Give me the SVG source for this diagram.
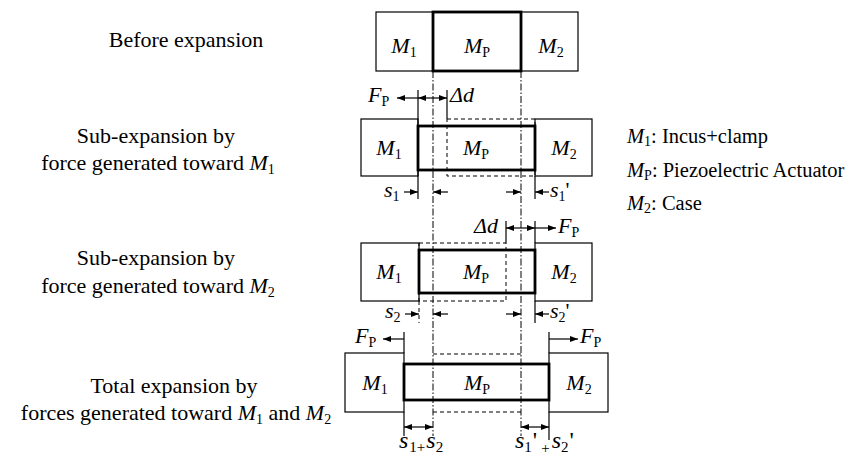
<svg xmlns="http://www.w3.org/2000/svg" width="861" height="461" viewBox="0 0 861 461">
<style>
text{font-family:"Liberation Serif","Times New Roman",serif;fill:#000}
.lab{font-size:22px}
.leg{font-size:20.5px}
.big{font-size:24px}
.i{font-style:italic}
.sb{font-size:14px;font-style:normal}
.sb2{font-size:15px;font-style:normal}
.box{fill:none;stroke:#000;stroke-width:1.2}
.mp{fill:none;stroke:#000;stroke-width:2.8}
.dash{fill:none;stroke:#000;stroke-width:1;stroke-dasharray:4 3}
.dd{fill:none;stroke:#000;stroke-width:1;stroke-dasharray:7 2 1.5 2}
.ln{fill:none;stroke:#000;stroke-width:1.2}
.ar{fill:none;stroke:#000;stroke-width:1.2;marker-end:url(#ah)}
.da{fill:none;stroke:#000;stroke-width:1.2;marker-end:url(#ah);marker-start:url(#ah)}
</style>
<defs>
<marker id="ah" viewBox="0 0 8 6" refX="8" refY="3" markerWidth="8" markerHeight="6" markerUnits="userSpaceOnUse" orient="auto-start-reverse">
<path d="M0,0 L8,3 L0,6 z" fill="#000"/>
</marker>
</defs>
<rect width="861" height="461" fill="#fff"/>

<g id="captions" class="lab">
<text x="186" y="47" text-anchor="middle">Before expansion</text>
<text x="156" y="143" text-anchor="middle">Sub-expansion by</text>
<text x="158" y="170" text-anchor="middle">force generated toward <tspan class="i">M</tspan><tspan class="sb" dy="4">1</tspan></text>
<text x="156" y="265" text-anchor="middle">Sub-expansion by</text>
<text x="158" y="293" text-anchor="middle">force generated toward <tspan class="i">M</tspan><tspan class="sb" dy="4">2</tspan></text>
<text x="174" y="393" text-anchor="middle">Total expansion by</text>
<text x="176" y="420" text-anchor="middle">forces generated toward <tspan class="i">M</tspan><tspan class="sb" dy="4">1</tspan><tspan dy="-4"> and </tspan><tspan class="i">M</tspan><tspan class="sb" dy="4">2</tspan></text>
</g>

<g id="legend" class="leg">
<text x="627" y="143"><tspan class="i">M</tspan><tspan class="sb" dy="3">1</tspan><tspan dy="-3">: Incus+clamp</tspan></text>
<text x="627" y="177"><tspan class="i">M</tspan><tspan class="sb" dy="3">P</tspan><tspan dy="-3">: Piezoelectric Actuator</tspan></text>
<text x="627" y="210"><tspan class="i">M</tspan><tspan class="sb" dy="3">2</tspan><tspan dy="-3">: Case</tspan></text>
</g>

<g id="ghosts">
<rect class="dash" x="447" y="119" width="88" height="57"/>
<rect class="dash" x="419" y="243" width="87" height="58"/>
<line class="dash" x1="433" y1="354" x2="521" y2="354"/>
<line class="dash" x1="433" y1="412" x2="521" y2="412"/>
</g>

<g id="row1-M1"><rect class="box" x="376" y="12" width="57" height="59"/>
<text class="lab" x="404" y="53" text-anchor="middle"><tspan class="i">M</tspan><tspan class="sb" dy="4">1</tspan></text></g>
<g id="row1-MP"><rect class="mp" x="433" y="12" width="88" height="59"/>
<text class="lab" x="477" y="53" text-anchor="middle"><tspan class="i">M</tspan><tspan class="sb" dy="4">P</tspan></text></g>
<g id="row1-M2"><rect class="box" x="521" y="12" width="57" height="59"/>
<text class="lab" x="551" y="53" text-anchor="middle"><tspan class="i">M</tspan><tspan class="sb" dy="4">2</tspan></text></g>

<g id="row2-M1"><rect class="box" x="361" y="119" width="57" height="57"/>
<text class="lab" x="389" y="155" text-anchor="middle"><tspan class="i">M</tspan><tspan class="sb" dy="4">1</tspan></text></g>
<g id="row2-MP"><rect class="mp" x="418" y="126" width="117" height="44"/>
<text class="lab" x="476" y="155" text-anchor="middle"><tspan class="i">M</tspan><tspan class="sb" dy="4">P</tspan></text></g>
<g id="row2-M2"><rect class="box" x="535" y="119" width="57" height="57"/>
<text class="lab" x="564" y="155" text-anchor="middle"><tspan class="i">M</tspan><tspan class="sb" dy="4">2</tspan></text></g>

<g id="row3-M1"><rect class="box" x="361" y="243" width="58" height="58"/>
<text class="lab" x="389" y="279" text-anchor="middle"><tspan class="i">M</tspan><tspan class="sb" dy="4">1</tspan></text></g>
<g id="row3-MP"><rect class="mp" x="419" y="250" width="116" height="43"/>
<text class="lab" x="476" y="279" text-anchor="middle"><tspan class="i">M</tspan><tspan class="sb" dy="4">P</tspan></text></g>
<g id="row3-M2"><rect class="box" x="535" y="243" width="57" height="58"/>
<text class="lab" x="564" y="279" text-anchor="middle"><tspan class="i">M</tspan><tspan class="sb" dy="4">2</tspan></text></g>

<g id="row4-M1"><rect class="box" x="345" y="353" width="59" height="59"/>
<text class="lab" x="375" y="390" text-anchor="middle"><tspan class="i">M</tspan><tspan class="sb" dy="4">1</tspan></text></g>
<g id="row4-MP"><rect class="mp" x="404" y="364" width="145" height="36"/>
<text class="lab" x="477" y="390" text-anchor="middle"><tspan class="i">M</tspan><tspan class="sb" dy="4">P</tspan></text></g>
<g id="row4-M2"><rect class="box" x="549" y="353" width="59" height="59"/>
<text class="lab" x="579" y="390" text-anchor="middle"><tspan class="i">M</tspan><tspan class="sb" dy="4">2</tspan></text></g>

<g id="connectors">
<line class="dd" x1="433" y1="71" x2="433" y2="436"/>
<line class="dd" x1="521" y1="71" x2="521" y2="436"/>
<line class="ln" x1="418" y1="90" x2="418" y2="199"/>
<line class="ln" x1="447" y1="90" x2="447" y2="119"/>
<line class="ln" x1="535" y1="176" x2="535" y2="199"/>
<line class="ar" x1="418" y1="98" x2="397" y2="98"/>
<line class="da" x1="418" y1="98" x2="447" y2="98"/>
<line class="ar" x1="404" y1="192" x2="418" y2="192"/>
<line class="ar" x1="448" y1="192" x2="433" y2="192"/>
<line class="ar" x1="506" y1="192" x2="521" y2="192"/>
<line class="ar" x1="549" y1="192" x2="535" y2="192"/>
<line class="ln" x1="506" y1="221" x2="506" y2="243"/>
<line class="ln" x1="535" y1="221" x2="535" y2="243"/>
<line class="dash" x1="419" y1="301" x2="419" y2="323"/>
<line class="ln" x1="535" y1="301" x2="535" y2="323"/>
<line class="da" x1="506" y1="228" x2="535" y2="228"/>
<line class="ar" x1="535" y1="228" x2="556" y2="228"/>
<line class="ar" x1="405" y1="314" x2="419" y2="314"/>
<line class="ar" x1="448" y1="314" x2="433" y2="314"/>
<line class="ar" x1="506" y1="314" x2="521" y2="314"/>
<line class="ar" x1="549" y1="314" x2="535" y2="314"/>
<line class="ln" x1="404" y1="332" x2="404" y2="353"/>
<line class="ln" x1="549" y1="332" x2="549" y2="353"/>
<line class="ln" x1="404" y1="412" x2="404" y2="436"/>
<line class="ln" x1="549" y1="412" x2="549" y2="440"/>
<line class="ar" x1="404" y1="339" x2="383" y2="339"/>
<line class="ar" x1="549" y1="339" x2="578" y2="339"/>
<line class="da" x1="404" y1="427" x2="433" y2="427"/>
<line class="da" x1="521" y1="427" x2="549" y2="427"/>
</g>

<g id="dim-labels" class="lab">
<text x="368" y="102"><tspan class="i">F</tspan><tspan class="sb" dy="4">P</tspan></text>
<text x="450" y="102" class="i">Δd</text>
<text x="384" y="197"><tspan class="i">s</tspan><tspan class="sb" dy="4">1</tspan></text>
<text x="550" y="197"><tspan class="i">s</tspan><tspan class="sb" dy="4">1</tspan><tspan dy="-4">'</tspan></text>
<text x="498" y="233" text-anchor="end" class="i">Δd</text>
<text x="558" y="233"><tspan class="i">F</tspan><tspan class="sb" dy="4">P</tspan></text>
<text x="385" y="318"><tspan class="i">s</tspan><tspan class="sb" dy="4">2</tspan></text>
<text x="550" y="318"><tspan class="i">s</tspan><tspan class="sb" dy="4">2</tspan><tspan dy="-4">'</tspan></text>
<text x="355" y="343"><tspan class="i">F</tspan><tspan class="sb" dy="4">P</tspan></text>
<text x="580" y="343"><tspan class="i">F</tspan><tspan class="sb" dy="4">P</tspan></text>
<text class="big" x="399" y="448"><tspan class="i">s</tspan><tspan class="sb2" dy="4" dx="1">1+</tspan><tspan class="i" dy="-4" dx="1">s</tspan><tspan class="sb2" dy="4">2</tspan></text>
<text class="big" x="515" y="448"><tspan class="i">s</tspan><tspan class="sb2" dy="4">1</tspan><tspan dy="-4" dx="1">'</tspan><tspan class="sb2" dy="5" dx="4">+</tspan><tspan class="i" dy="-5" dx="2">s</tspan><tspan class="sb2" dy="4">2</tspan><tspan dy="-4" dx="1">'</tspan></text>
</g>
</svg>
